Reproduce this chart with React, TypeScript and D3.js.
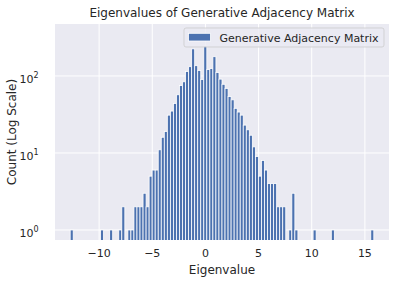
import React from "react";
import * as d3 from "d3";

const title = "Eigenvalues of Generative Adjacency Matrix";
const xLabel = "Eigenvalue";
const yLabel = "Count (Log Scale)";
const seriesName = "Generative Adjacency Matrix";

// histogram: 100 bins between data min and max
const dataMin = -12.72;
const dataMax = 15.84;
const counts = [
  1, 0, 0, 0, 0, 0, 0, 0, 0, 0,
  1, 0, 0, 1, 0, 0, 1, 2, 0, 1,
  1, 2, 2, 2, 3, 2, 5, 6, 6, 11,
  16, 19, 31, 35, 44, 57, 75, 84, 114, 132,
  225, 136, 118, 90, 245, 121, 125, 178, 111, 91,
  78, 69, 54, 49, 38, 34, 31, 23, 20, 17,
  12, 9, 5, 8, 6, 4, 4, 4, 2, 2,
  2, 0, 1, 3, 1, 0, 0, 0, 0, 0,
  1, 0, 0, 0, 0, 0, 1, 0, 0, 0,
  0, 0, 0, 0, 0, 0, 0, 0, 0, 1,
];
const xTicks = [-10, -5, 0, 5, 10, 15];
const yTicks = [0, 1, 2]; // exponents

const W = 396;
const H = 284;
const L = 55, R = 389, T = 24, B = 240;
const font = "DejaVu Sans, sans-serif";
const txt = "#262626";
const blue = "#4c72b0";

export default function App() {
  const range = dataMax - dataMin;
  const x = d3.scaleLinear().domain([dataMin - 0.05 * range, dataMax + 0.05 * range]).range([L, R]);
  const y = d3.scaleLog().domain([0.741, 473]).range([B, T]);
  const bw = range / counts.length;
  const bins = counts.map((c, i) => ({ x0: dataMin + i * bw, x1: dataMin + (i + 1) * bw, c }));

  return (
    <svg width={W} height={H} style={{ position: "absolute", left: 0, top: 0 }}>
      <defs>
        <clipPath id="plot">
          <rect x={L} y={T} width={R - L} height={B - T} />
        </clipPath>
      </defs>
      <rect x={0} y={0} width={W} height={H} fill="#ffffff" />
      <rect x={L} y={T} width={R - L} height={B - T} fill="#eaeaf2" />
      {xTicks.map((t) => (
        <line key={"gx" + t} x1={x(t)} x2={x(t)} y1={T} y2={B} stroke="#fff" strokeWidth={1} />
      ))}
      {yTicks.map((e) => (
        <line key={"gy" + e} x1={L} x2={R} y1={y(Math.pow(10, e))} y2={y(Math.pow(10, e))} stroke="#fff" strokeWidth={1} />
      ))}
      <g clipPath="url(#plot)">
        {bins.filter((b) => b.c > 0).map((b, i) => (
          <rect
            key={i}
            x={x(b.x0)}
            y={y(b.c)}
            width={x(b.x1) - x(b.x0)}
            height={B + 5 - y(b.c)}
            fill={blue}
            stroke="#fff"
            strokeWidth={0.8}
          />
        ))}
      </g>
      {xTicks.map((t) => (
        <text key={"tx" + t} x={x(t)} y={257} fontSize={11} fontFamily={font} fill={txt} textAnchor="middle">
          {t < 0 ? "\u2212" + Math.abs(t) : String(t)}
        </text>
      ))}
      {yTicks.map((e) => (
        <text key={"ty" + e} x={38.5} y={y(Math.pow(10, e)) + 7} fontSize={11} fontFamily={font} fill={txt} textAnchor="end">
          10
          <tspan fontSize={8} dy={-5}>{e}</tspan>
        </text>
      ))}
      <text x={(L + R) / 2} y={17} fontSize={12} fontFamily={font} fill={txt} textAnchor="middle">
        {title}
      </text>
      <text x={(L + R) / 2} y={274} fontSize={12} fontFamily={font} fill={txt} textAnchor="middle">
        {xLabel}
      </text>
      <text
        transform={`translate(16,${(T + B) / 2}) rotate(-90)`}
        fontSize={12}
        fontFamily={font}
        fill={txt}
        textAnchor="middle"
      >
        {yLabel}
      </text>
      <g>
        <rect x={184} y={28} width={200} height={19} rx={2} fill="#eaeaf2" fillOpacity={0.8} stroke="#cccccc" strokeOpacity={0.8} strokeWidth={1} />
        <rect x={188.5} y={33.3} width={22} height={7.7} fill={blue} stroke="#fff" strokeWidth={0.8} />
        <text x={219.5} y={41.5} fontSize={11} fontFamily={font} fill={txt}>
          {seriesName}
        </text>
      </g>
    </svg>
  );
}
